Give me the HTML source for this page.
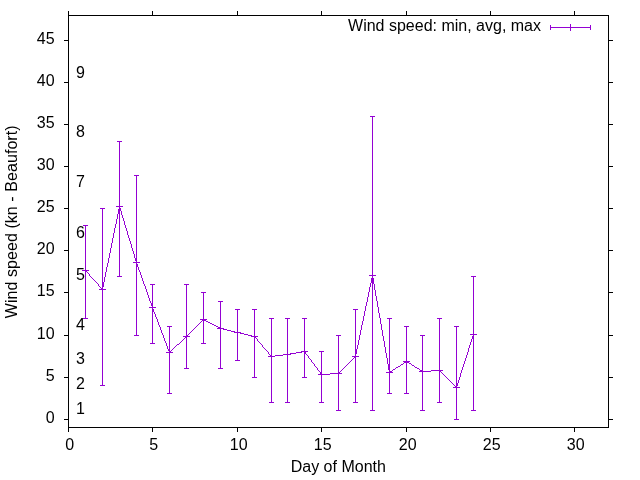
<!DOCTYPE html>
<html><head><meta charset="utf-8"><title>Wind speed</title>
<style>html,body{margin:0;padding:0;background:#fff}svg{display:block;will-change:transform;opacity:0.999}text{font-family:"Liberation Sans",Arial,sans-serif;font-size:16px;fill:#000}</style></head><body>
<svg width="640" height="480" viewBox="0 0 640 480">
<rect width="640" height="480" fill="#fff"/>
<path shape-rendering="crispEdges" fill="#000" d="M68 15h541v1h-541zM68 427h541v1h-541zM68 15h1v413h-1zM608 15h1v413h-1zM64 419h5v1h-5zM608 419h5v1h-5zM64 377h5v1h-5zM608 377h5v1h-5zM64 335h5v1h-5zM608 335h5v1h-5zM64 292h5v1h-5zM608 292h5v1h-5zM64 250h5v1h-5zM608 250h5v1h-5zM64 208h5v1h-5zM608 208h5v1h-5zM64 166h5v1h-5zM608 166h5v1h-5zM64 124h5v1h-5zM608 124h5v1h-5zM64 82h5v1h-5zM608 82h5v1h-5zM64 40h5v1h-5zM608 40h5v1h-5zM68 427h1v5h-1zM68 11h1v5h-1zM152 427h1v5h-1zM152 11h1v5h-1zM237 427h1v5h-1zM237 11h1v5h-1zM321 427h1v5h-1zM321 11h1v5h-1zM406 427h1v5h-1zM406 11h1v5h-1zM490 427h1v5h-1zM490 11h1v5h-1zM574 427h1v5h-1zM574 11h1v5h-1z"/>
<text x="54.8" y="422.7" text-anchor="end" letter-spacing="0.1">0</text>
<text x="54.8" y="380.7" text-anchor="end" letter-spacing="0.1">5</text>
<text x="54.8" y="338.7" text-anchor="end" letter-spacing="0.1">10</text>
<text x="54.8" y="295.7" text-anchor="end" letter-spacing="0.1">15</text>
<text x="54.8" y="253.7" text-anchor="end" letter-spacing="0.1">20</text>
<text x="54.8" y="211.7" text-anchor="end" letter-spacing="0.1">25</text>
<text x="54.8" y="169.7" text-anchor="end" letter-spacing="0.1">30</text>
<text x="54.8" y="127.7" text-anchor="end" letter-spacing="0.1">35</text>
<text x="54.8" y="85.7" text-anchor="end" letter-spacing="0.1">40</text>
<text x="54.8" y="43.7" text-anchor="end" letter-spacing="0.1">45</text>
<text x="69.8" y="449.5" text-anchor="middle" letter-spacing="0.1">0</text>
<text x="153.8" y="449.5" text-anchor="middle" letter-spacing="0.1">5</text>
<text x="238.8" y="449.5" text-anchor="middle" letter-spacing="0.1">10</text>
<text x="322.8" y="449.5" text-anchor="middle" letter-spacing="0.1">15</text>
<text x="407.8" y="449.5" text-anchor="middle" letter-spacing="0.1">20</text>
<text x="491.8" y="449.5" text-anchor="middle" letter-spacing="0.1">25</text>
<text x="575.8" y="449.5" text-anchor="middle" letter-spacing="0.1">30</text>
<text x="76" y="414">1</text>
<text x="76" y="389">2</text>
<text x="76" y="364">3</text>
<text x="76" y="330">4</text>
<text x="76" y="280">5</text>
<text x="76" y="238">6</text>
<text x="76" y="187">7</text>
<text x="76" y="137">8</text>
<text x="76" y="78">9</text>
<text x="338.3" y="472" text-anchor="middle">Day of Month</text>
<text transform="translate(17,221.8) rotate(-90)" text-anchor="middle" letter-spacing="0.065">Wind speed (kn - Beaufort)</text>
<text x="541" y="31" text-anchor="end">Wind speed: min, avg, max</text>
<path shape-rendering="crispEdges" fill="#9400d3" d="M550 27h41v1h-41zM550 25h1v5h-1zM590 25h1v5h-1zM570 24h1v7h-1zM567 27h7v1h-7zM85 225h1v94h-1zM83 225h5v1h-5zM83 318h5v1h-5zM82 270h7v1h-7zM85 267h1v7h-1zM102 208h1v178h-1zM100 208h5v1h-5zM100 385h5v1h-5zM99 289h7v1h-7zM102 286h1v7h-1zM119 141h1v136h-1zM117 141h5v1h-5zM117 276h5v1h-5zM116 206h7v1h-7zM119 203h1v7h-1zM136 175h1v161h-1zM134 175h5v1h-5zM134 335h5v1h-5zM133 262h7v1h-7zM136 259h1v7h-1zM152 284h1v60h-1zM150 284h5v1h-5zM150 343h5v1h-5zM149 307h7v1h-7zM152 304h1v7h-1zM169 326h1v68h-1zM167 326h5v1h-5zM167 393h5v1h-5zM166 352h7v1h-7zM169 349h1v7h-1zM186 284h1v85h-1zM184 284h5v1h-5zM184 368h5v1h-5zM183 336h7v1h-7zM186 333h1v7h-1zM203 292h1v52h-1zM201 292h5v1h-5zM201 343h5v1h-5zM200 319h7v1h-7zM203 316h1v7h-1zM220 301h1v68h-1zM218 301h5v1h-5zM218 368h5v1h-5zM217 328h7v1h-7zM220 325h1v7h-1zM237 309h1v52h-1zM235 309h5v1h-5zM235 360h5v1h-5zM234 332h7v1h-7zM237 329h1v7h-1zM254 309h1v69h-1zM252 309h5v1h-5zM252 377h5v1h-5zM251 336h7v1h-7zM254 333h1v7h-1zM271 318h1v85h-1zM269 318h5v1h-5zM269 402h5v1h-5zM268 356h7v1h-7zM271 353h1v7h-1zM287 318h1v85h-1zM285 318h5v1h-5zM285 402h5v1h-5zM284 354h7v1h-7zM287 351h1v7h-1zM304 318h1v60h-1zM302 318h5v1h-5zM302 377h5v1h-5zM301 351h7v1h-7zM304 348h1v7h-1zM321 351h1v52h-1zM319 351h5v1h-5zM319 402h5v1h-5zM318 374h7v1h-7zM321 371h1v7h-1zM338 335h1v76h-1zM336 335h5v1h-5zM336 410h5v1h-5zM335 373h7v1h-7zM338 370h1v7h-1zM355 309h1v94h-1zM353 309h5v1h-5zM353 402h5v1h-5zM352 356h7v1h-7zM355 353h1v7h-1zM372 116h1v295h-1zM370 116h5v1h-5zM370 410h5v1h-5zM369 275h7v1h-7zM372 272h1v7h-1zM389 318h1v76h-1zM387 318h5v1h-5zM387 393h5v1h-5zM386 372h7v1h-7zM389 369h1v7h-1zM406 326h1v68h-1zM404 326h5v1h-5zM404 393h5v1h-5zM403 361h7v1h-7zM406 358h1v7h-1zM422 335h1v76h-1zM420 335h5v1h-5zM420 410h5v1h-5zM419 371h7v1h-7zM422 368h1v7h-1zM439 318h1v85h-1zM437 318h5v1h-5zM437 402h5v1h-5zM436 370h7v1h-7zM439 367h1v7h-1zM456 326h1v94h-1zM454 326h5v1h-5zM454 419h5v1h-5zM453 387h7v1h-7zM456 384h1v7h-1zM473 276h1v135h-1zM471 276h5v1h-5zM471 410h5v1h-5zM470 334h7v1h-7zM473 331h1v7h-1z"/>
<path shape-rendering="crispEdges" fill="#9400d3" d="M84.55 270.00L85.55 270.00L103.45 290.00L102.45 290.00zM119.10 206.00L120.10 206.00L102.90 290.00L101.90 290.00zM118.85 206.00L119.85 206.00L137.15 263.00L136.15 263.00zM135.82 262.00L136.82 262.00L153.18 308.00L152.18 308.00zM151.81 307.00L152.81 307.00L170.19 353.00L169.19 353.00zM169.00 352.47L187.00 335.53L187.00 336.53L169.00 353.47zM186.00 336.50L204.00 318.50L204.00 319.50L186.00 337.50zM203.00 318.74L221.00 328.26L221.00 329.26L203.00 319.74zM220.00 327.88L238.00 332.12L238.00 333.12L220.00 328.88zM237.00 331.88L255.00 336.12L255.00 337.12L237.00 332.88zM253.57 336.00L254.57 336.00L272.43 357.00L271.43 357.00zM271.00 356.06L288.00 353.94L288.00 354.94L271.00 357.06zM287.00 354.09L305.00 350.91L305.00 351.91L287.00 355.09zM303.63 351.00L304.63 351.00L322.37 375.00L321.37 375.00zM321.00 374.03L339.00 372.97L339.00 373.97L321.00 375.03zM338.00 373.50L356.00 355.50L356.00 356.50L338.00 374.50zM372.10 275.00L373.10 275.00L355.90 357.00L354.90 357.00zM371.91 275.00L372.91 275.00L390.09 373.00L389.09 373.00zM389.00 372.32L407.00 360.68L407.00 361.68L389.00 373.32zM406.00 360.69L423.00 371.31L423.00 372.31L406.00 361.69zM422.00 371.03L440.00 369.97L440.00 370.97L422.00 372.03zM439.00 369.50L457.00 387.50L457.00 388.50L439.00 370.50zM473.16 334.00L474.16 334.00L456.84 388.00L455.84 388.00z"/>
</svg></body></html>
